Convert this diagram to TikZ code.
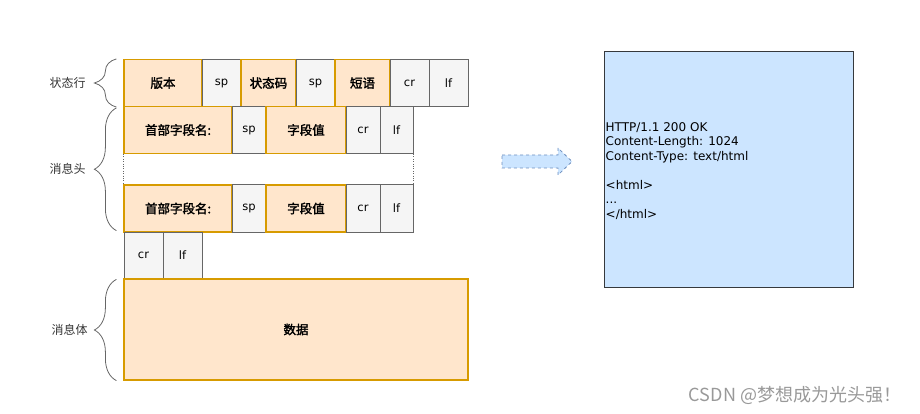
\documentclass[tikz,border=0pt]{standalone}
\usepackage{fontspec}
\setmainfont{DejaVu Sans}
\newfontfamily\cjk[AutoFakeBold=2]{Noto Sans CJK SC}
\usepackage{tikz}
\usetikzlibrary{calc,decorations.pathreplacing}
\definecolor{fieldfill}{HTML}{FFE6CC}
\definecolor{fielddraw}{HTML}{D79B00}
\definecolor{sepfill}{HTML}{F5F5F5}
\definecolor{sepdraw}{HTML}{666666}
\definecolor{msgfill}{HTML}{CCE5FF}
\definecolor{msgdraw}{HTML}{36393D}
\definecolor{arrowdraw}{HTML}{6C8EBF}
\definecolor{labelgray}{HTML}{333333}

\begin{document}
\begin{tikzpicture}[x=1pt, y=-1pt,
  field/.style={draw=fielddraw,fill=fieldfill,line width=1.2pt,minimum height=47pt,inner sep=0pt,
    font=\cjk\bfseries\fontsize{12.5}{14}\selectfont},
  sepbox/.style={draw=sepdraw,fill=sepfill,line width=1pt,minimum height=47pt,inner sep=0pt,
    font=\fontsize{11.5}{13}\selectfont},
  partbrace/.style={draw=sepdraw,line width=0.8pt,decorate,decoration={brace,amplitude=22pt}},
  partlabel/.style={font=\cjk\fontsize{12}{14}\selectfont,text=labelgray}]
  \useasboundingbox (0,0) rectangle (920,414);

  % status line
  \node[field,minimum width=78pt] (ver) at (163,83) {版本};
  \node[sepbox,minimum width=39pt] (sp1) at (221.5,83) {sp};
  \node[field,minimum width=55pt] (code) at (268.5,83) {状态码};
  \node[sepbox,minimum width=39pt] (sp2) at (315.5,83) {sp};
  \node[field,minimum width=55pt] (phrase) at (362.5,83) {短语};
  \node[sepbox,minimum width=39pt] (cr0) at (409.5,83) {cr};
  \node[sepbox,minimum width=39pt] (lf0) at (448.5,83) {lf};

  % header lines
  \node[field,minimum width=108pt] (hname1) at (178,130) {首部字段名:};
  \node[sepbox,minimum width=34pt] (hsp1) at (249,130) {sp};
  \node[field,minimum width=80pt] (hval1) at (306,130) {字段值};
  \node[sepbox,minimum width=34pt] (hcr1) at (363,130) {cr};
  \node[sepbox,minimum width=33pt] (hlf1) at (396.5,130) {lf};

  \node[field,minimum width=108pt] (hname2) at (178,208.5) {首部字段名:};
  \node[sepbox,minimum width=34pt] (hsp2) at (249,208.5) {sp};
  \node[field,minimum width=80pt] (hval2) at (306,208.5) {字段值};
  \node[sepbox,minimum width=34pt] (hcr2) at (363,208.5) {cr};
  \node[sepbox,minimum width=33pt] (hlf2) at (396.5,208.5) {lf};

  \draw[dotted,sepdraw] (hname1.south west) -- (hname2.north west);
  \draw[dotted,sepdraw] (hlf1.south east) -- (hlf2.north east);

  % empty line + body
  \node[sepbox,minimum width=39pt] (ecr) at (143.5,255.5) {cr};
  \node[sepbox,minimum width=39pt] (elf) at (182.5,255.5) {lf};
  \node[field,minimum width=344pt,minimum height=101pt] (data) at (296,329.5) {数据};

  % braces
  \draw[partbrace] ($(ver.south west)+(-7,0)$) -- ($(ver.north west)+(-7,0)$)
    node[partlabel,midway,left=27pt] (lstatus) {状态行};
  \draw[partbrace] ($(hname2.south west)+(-7,-2)$) -- ($(hname1.north west)+(-7,2)$)
    node[partlabel,midway,left=27pt] (lheader) {消息头};
  \draw[partbrace] ($(data.south west)+(-7,0)$) -- ($(data.north west)+(-7,1)$)
    node[partlabel,midway,left=25pt] (lbody) {消息体};

  % example message
  \path[draw=arrowdraw,dashed,fill=msgfill,line width=0.8pt]
    (502,155) -- (558,155) -- (558,148) -- (572,161.5) -- (558,175) -- (558,168) -- (502,168) -- cycle;
  \node[draw=msgdraw,fill=msgfill,line width=1pt,minimum width=249pt,minimum height=235pt] (resp) at (728.5,169.5) {};
  \node[anchor=west,align=left,inner sep=0pt,font=\fontsize{12}{14.5}\selectfont] (resptext)
    at ($(resp.west)+(2,1.5)$)
    {HTTP/1.1 200 OK\\Content-Length: 1024\\Content-Type: text/html\\[14.5pt]<html>\\...\\</html>};

  \node[font=\cjk\fontsize{18}{20}\selectfont,text=black!40] (mark) at (795,395) {CSDN @梦想成为光头强！};
\end{tikzpicture}
\end{document}
